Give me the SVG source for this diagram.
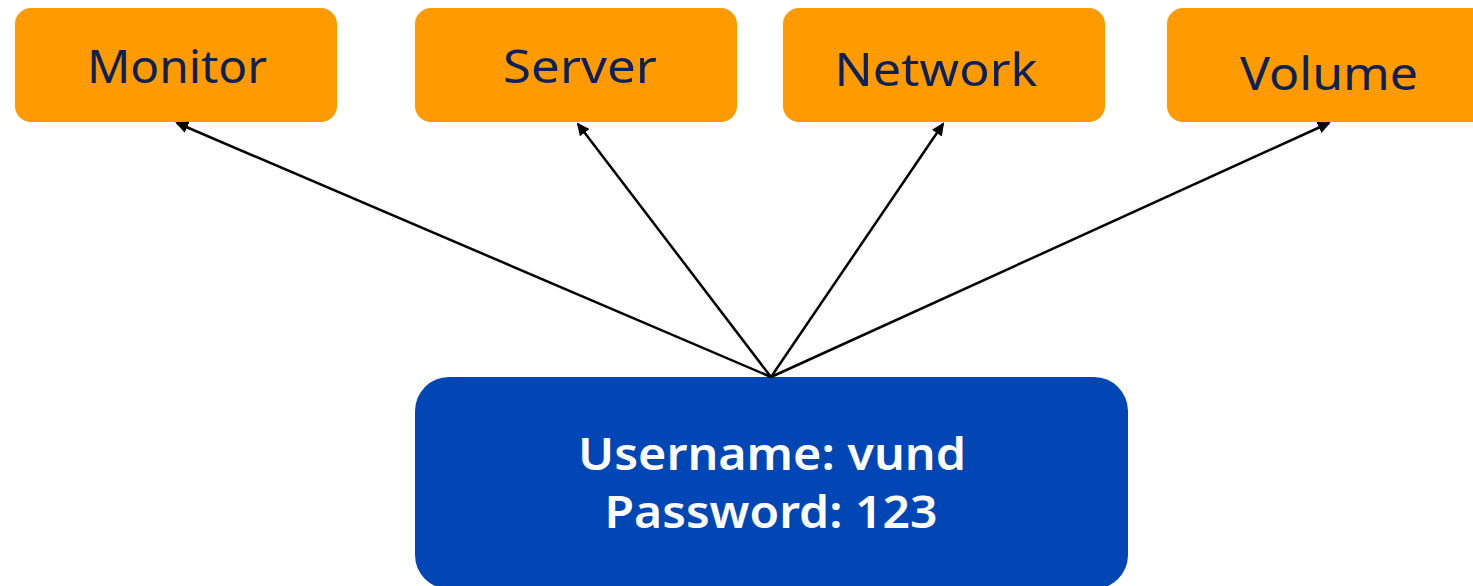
<svg xmlns="http://www.w3.org/2000/svg" width="1473" height="586" viewBox="0 0 1473 586">
<style>
.o{fill:#ff9a00}
.lbl{font-family:"Noto Sans","Liberation Sans",sans-serif;font-size:46px;fill:#0b2158;text-anchor:middle}
.wl{font-family:"Noto Sans","Liberation Sans",sans-serif;font-size:45px;font-weight:600;fill:#ffffff;text-anchor:middle}
.c{stroke:#000;stroke-width:2.5;fill:none;marker-end:url(#ah)}
</style>
<defs>
<marker id="ah" markerWidth="13" markerHeight="12" refX="11" refY="6" orient="auto" markerUnits="userSpaceOnUse">
<path d="M0,0 L13,6 L0,12 z" fill="#000"/>
</marker>
</defs>
<rect width="1473" height="586" fill="#fff"/>
<g id="monitor"><rect class="o" x="15" y="8" width="322" height="114" rx="16"/><text class="lbl" x="177" y="83" textLength="180" lengthAdjust="spacingAndGlyphs">Monitor</text></g>
<g id="server"><rect class="o" x="415" y="8" width="322" height="114" rx="16"/><text class="lbl" x="580" y="83" textLength="154" lengthAdjust="spacingAndGlyphs">Server</text></g>
<g id="network"><rect class="o" x="783" y="8" width="322" height="114" rx="16"/><text class="lbl" x="936" y="86" textLength="203" lengthAdjust="spacingAndGlyphs">Network</text></g>
<g id="volume"><rect class="o" x="1167" y="8" width="340" height="114" rx="16"/><text class="lbl" x="1329" y="90" textLength="178" lengthAdjust="spacingAndGlyphs">Volume</text></g>
<g id="user"><rect x="415" y="377" width="713" height="212" rx="34" fill="#0046b5"/>
<text class="wl" x="772" y="470" textLength="388" lengthAdjust="spacingAndGlyphs">Username: vund</text>
<text class="wl" x="771" y="528" textLength="333" lengthAdjust="spacingAndGlyphs">Password: 123</text></g>
<g id="connectors">
<line class="c" x1="771" y1="377" x2="177" y2="123"/>
<line class="c" x1="771" y1="377" x2="578" y2="124"/>
<line class="c" x1="771" y1="377" x2="943" y2="124"/>
<line class="c" x1="771" y1="377" x2="1329" y2="123"/>
</g>
</svg>
